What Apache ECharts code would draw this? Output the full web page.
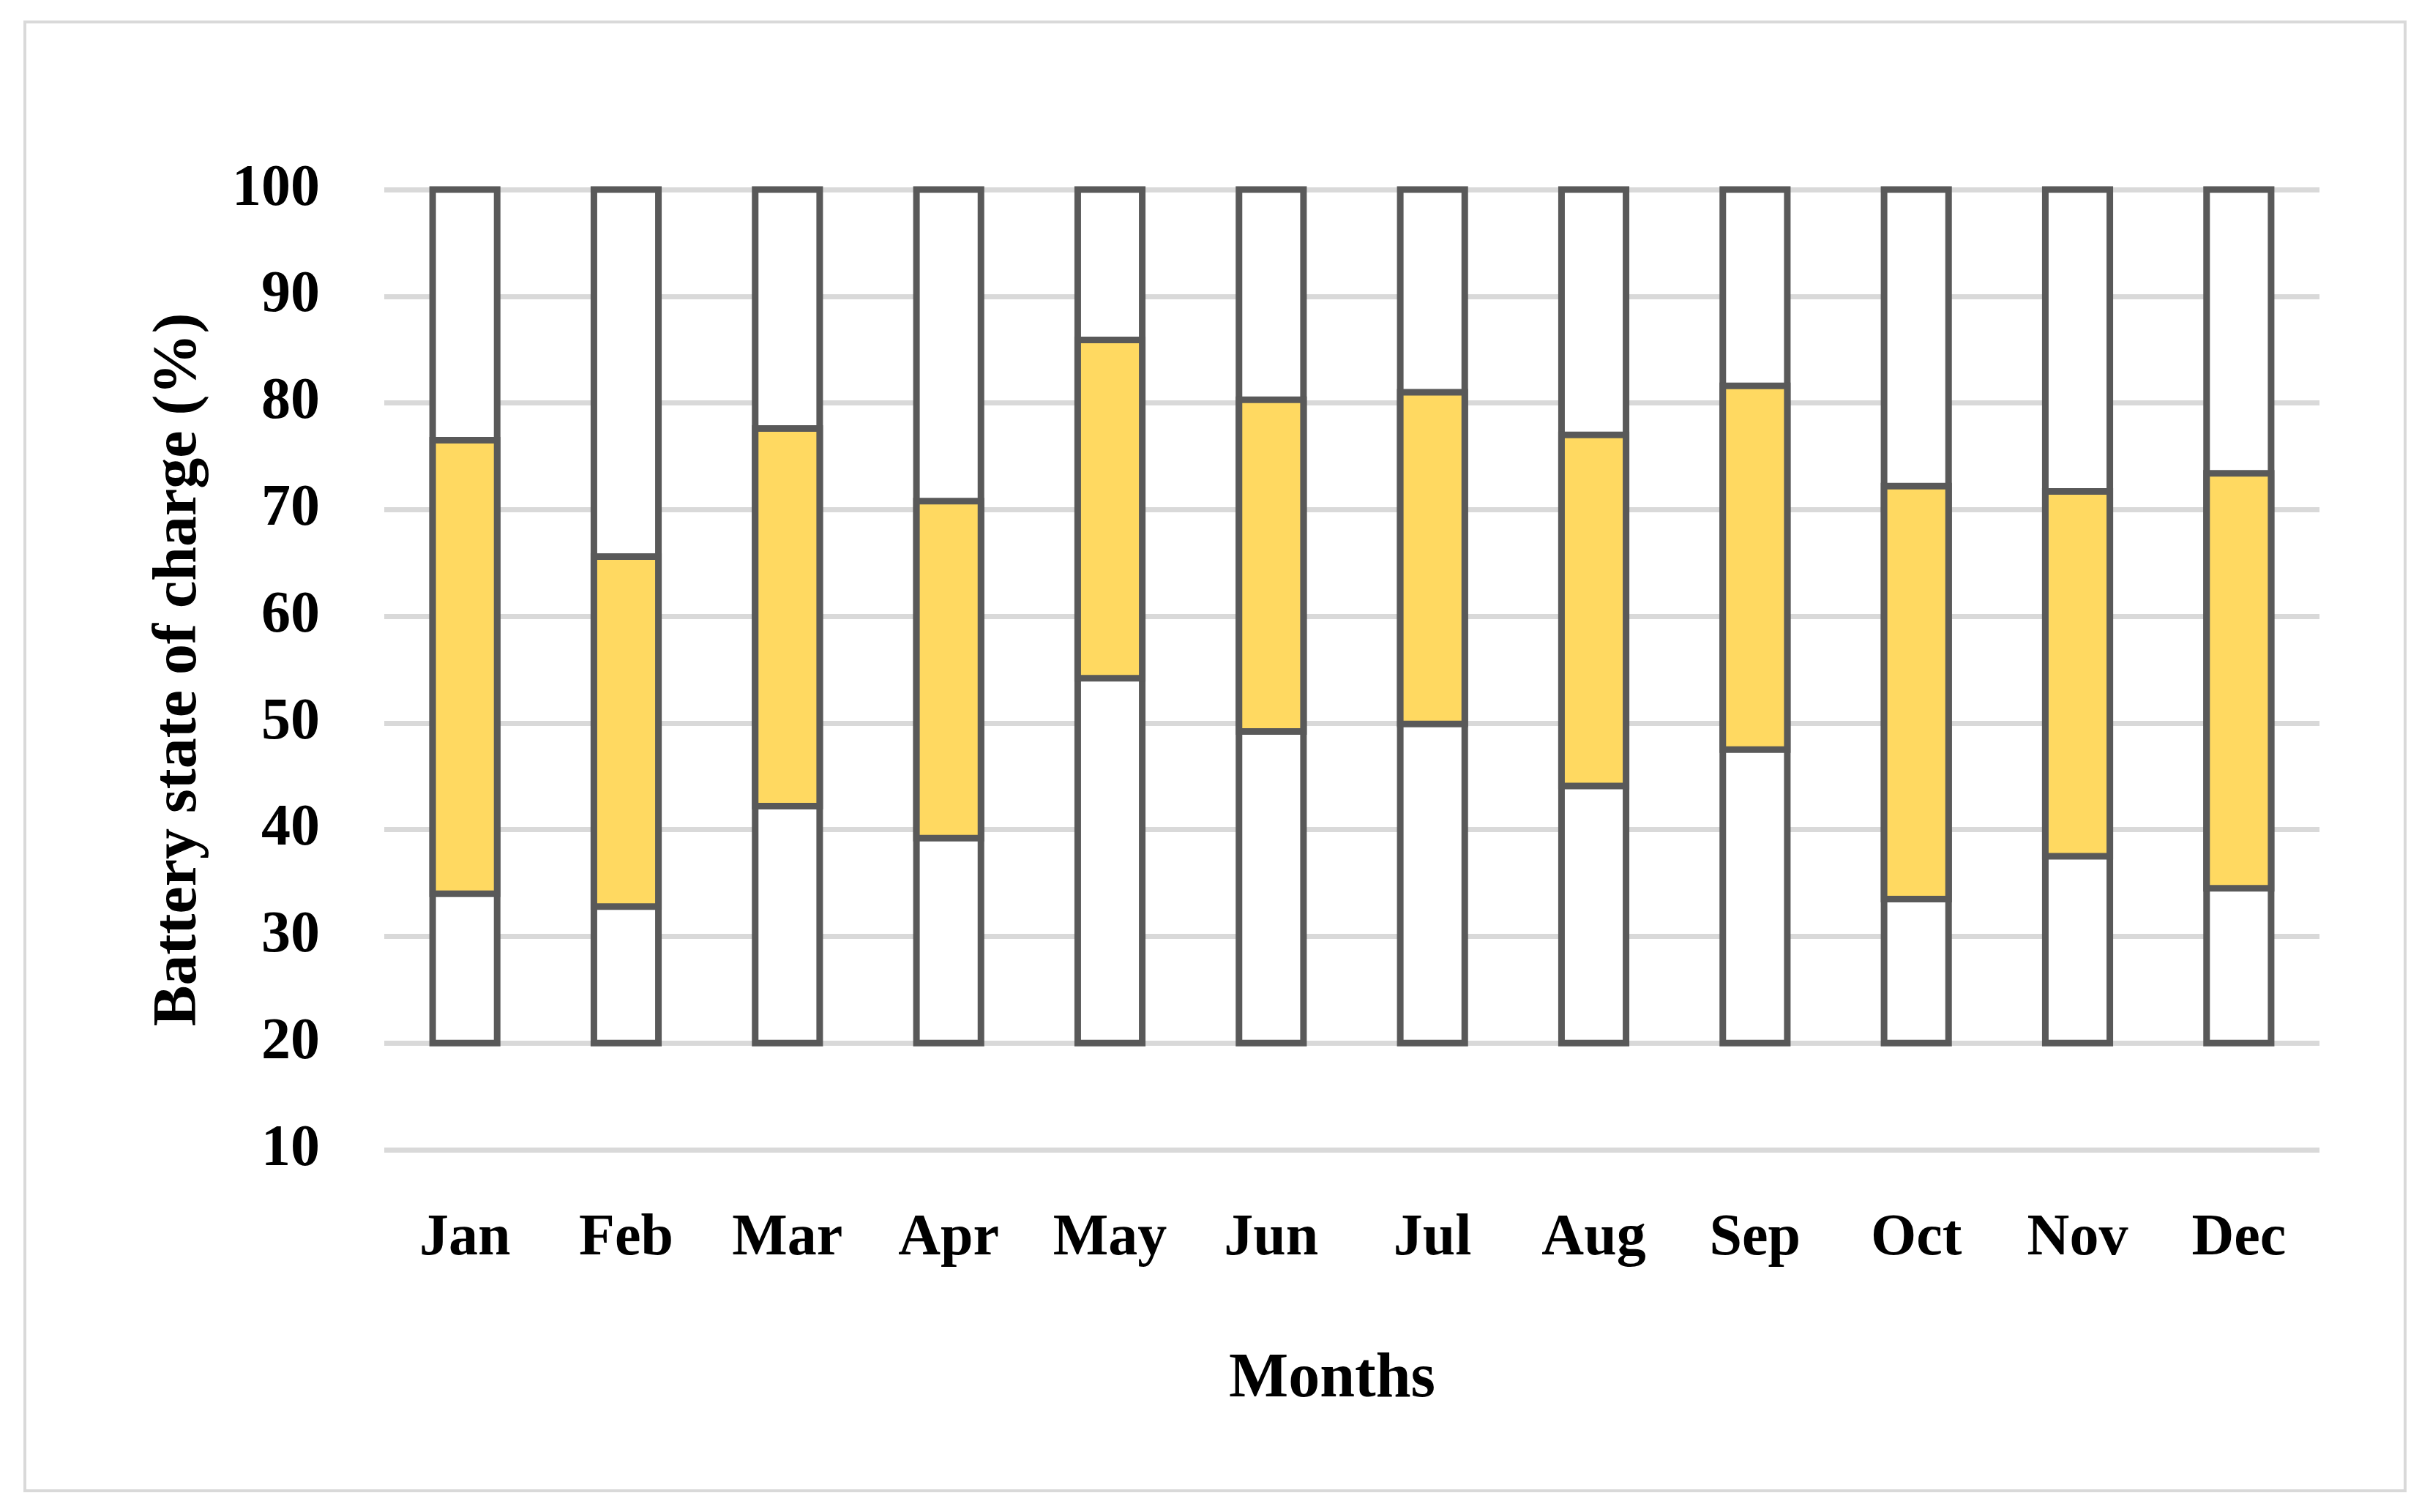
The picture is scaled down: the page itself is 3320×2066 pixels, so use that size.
<!DOCTYPE html>
<html>
<head>
<meta charset="utf-8">
<script src="https://cdn.jsdelivr.net/npm/echarts@6/dist/echarts.min.js"></script>
<style>
  html, body { margin: 0; padding: 0; background: #ffffff; }
  #chart { width: 3320px; height: 2066px; }
</style>
</head>
<body>
<div id="chart"></div>
<script>
// ---- data ----
const months = ['Jan', 'Feb', 'Mar', 'Apr', 'May', 'Jun', 'Jul', 'Aug', 'Sep', 'Oct', 'Nov', 'Dec'];
const socFloor = [20, 20, 20, 20, 20, 20, 20, 20, 20, 20, 20, 20];       // bars start at 20 %
const socMin   = [34.0, 32.8, 42.2, 39.2, 54.2, 49.2, 49.9, 44.1, 47.5, 33.5, 37.5, 34.5];
const socMax   = [76.5, 65.6, 77.6, 70.8, 85.9, 80.3, 81.0, 77.0, 81.6, 72.2, 71.7, 73.4];
const socCeil  = [100, 100, 100, 100, 100, 100, 100, 100, 100, 100, 100, 100];
const yTicks   = [10, 20, 30, 40, 50, 60, 70, 80, 90, 100];

// rows for the custom series: [category index, floor, min, max, ceil]
const rows = months.map((m, i) => [i, socFloor[i], socMin[i], socMax[i], socCeil[i]]);

const FONT = '"Liberation Serif", "Times New Roman", serif';
const EDGE = '#595959';
const YELLOW = '#FFD961';
const BAR_RATIO = 0.4;   // bar width as a share of the category band
const STROKE = 9;

function renderItem(params, api) {
  const x = api.value(0);
  const pFloor = api.coord([x, api.value(1)]);
  const pMin   = api.coord([x, api.value(2)]);
  const pMax   = api.coord([x, api.value(3)]);
  const pCeil  = api.coord([x, api.value(4)]);
  const w = api.size([1, 0])[0] * BAR_RATIO;
  const left = pFloor[0] - w / 2;
  const stroke = { stroke: EDGE, lineWidth: STROKE, lineJoin: 'miter' };
  return {
    type: 'group',
    children: [
      { type: 'rect',
        shape: { x: left, y: pCeil[1], width: w, height: pFloor[1] - pCeil[1] },
        style: Object.assign({ fill: '#ffffff' }, stroke) },
      { type: 'rect',
        shape: { x: left, y: pMax[1], width: w, height: pMin[1] - pMax[1] },
        style: Object.assign({ fill: YELLOW }, stroke) }
    ]
  };
}

const chart = echarts.init(document.getElementById('chart'), null, { renderer: 'canvas' });
chart.setOption({
  backgroundColor: '#ffffff',
  animation: false,
  graphic: [{
    type: 'rect',
    shape: { x: 34, y: 30, width: 3252, height: 2007 },
    style: { fill: 'none', stroke: '#d9d9d9', lineWidth: 4 },
    silent: true
  }],
  grid: { left: 525, right: 151, top: 259, bottom: 495, containLabel: false },
  xAxis: {
    type: 'category',
    data: months,
    axisLine: { show: false },
    axisTick: { show: false },
    axisLabel: { fontFamily: FONT, fontWeight: 'bold', fontSize: 80, color: '#000', margin: 82 },
    name: 'Months',
    nameLocation: 'middle',
    nameGap: 272,
    nameTextStyle: { fontFamily: FONT, fontWeight: 'bold', fontSize: 86, color: '#000', padding: [0, 54, 0, 0] }
  },
  yAxis: {
    type: 'value',
    min: yTicks[0],
    max: yTicks[yTicks.length - 1],
    interval: yTicks[1] - yTicks[0],
    axisLine: { show: false },
    axisTick: { show: false },
    splitLine: { lineStyle: { color: '#d9d9d9', width: 7 } },
    axisLabel: { fontFamily: FONT, fontWeight: 'bold', fontSize: 80, color: '#000', margin: 88 },
    name: 'Battery state of charge (%)',
    nameLocation: 'middle',
    nameGap: 238,
    nameRotate: 90,
    nameTextStyle: { fontFamily: FONT, fontWeight: 'bold', fontSize: 84, color: '#000' }
  },
  series: [{
    name: 'State of charge range',
    type: 'custom',
    renderItem: renderItem,
    data: rows,
    encode: { x: 0, y: [1, 2, 3, 4] },
    clip: false,
    silent: true
  }]
});
</script>
</body>
</html>
